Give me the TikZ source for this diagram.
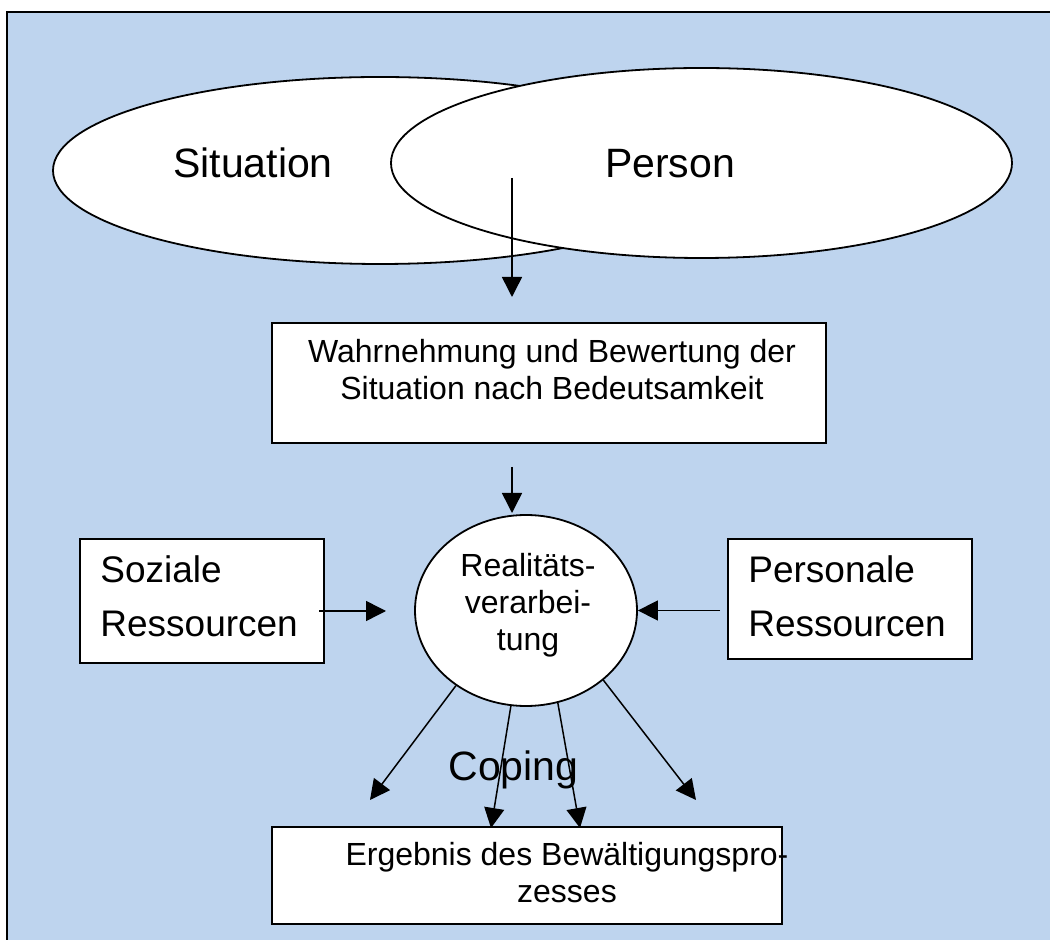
\documentclass[tikz,border=0pt]{standalone}
\usepackage{fontspec}
\setmainfont{Liberation Sans}
\usetikzlibrary{arrows.meta,shapes.geometric}
\definecolor{bgblue}{RGB}{190,212,238}

\begin{document}
\begin{tikzpicture}[x=0.5pt,y=-0.5pt,
        oval/.style={draw,fill=white,line width=0.9pt,ellipse,inner sep=0},
        frame/.style={draw,fill=white,line width=0.85pt,rectangle,inner sep=0},
        arr/.style={line width=0.75pt,-{Triangle[length=10pt,width=10pt]}},
        big/.style={font=\fontsize{20.5}{24}\selectfont,inner sep=0},
        mid/.style={font=\fontsize{18.5}{27}\selectfont,inner sep=0,align=left},
        small/.style={font=\fontsize{16}{18.5}\selectfont,inner sep=0,align=center},
        ]
        \useasboundingbox (0,0) rectangle (1050,940);
        \fill[bgblue] (7,12) rectangle (1050,940);
        \draw[line width=1.1pt] (7,940) -- (7,12) -- (1050,12);

        % the two ovals at the top
        \node[oval,minimum width=327pt,minimum height=93.5pt] (situation) at (380,170.5) {};
        \node[oval,minimum width=310.5pt,minimum height=95pt] (person) at (701.5,163) {};
        \node[big,anchor=base] (sittxt) at (253,178) {Situation};
        \node[big,anchor=base] (pertxt) at (670,178) {Person};

        \node[frame,minimum width=277pt,minimum height=60pt] (wahr) at (549,383) {};
        \node[small,anchor=base] (wahrtxt) at (552,400)
            {Wahrnehmung und Bewertung der\\Situation nach Bedeutsamkeit};

        \node[oval,minimum width=111pt,minimum height=95.5pt] (real) at (526,610.5) {};
        \node[small,anchor=base] (realtxt) at (528,651) {Realitäts-\\verarbei-\\tung};

        \node[frame,minimum width=122pt,minimum height=62pt] (sozial) at (202,601) {};
        \node[mid,anchor=base west] (soztxt) at (100,637) {Soziale\\Ressourcen};
        \node[frame,minimum width=122pt,minimum height=60pt] (personal) at (850,599) {};
        \node[mid,anchor=base west] (pertxt2) at (748,637) {Personale\\Ressourcen};

        \node[frame,minimum width=255pt,minimum height=48.5pt] (ergebnis) at (527,875.5) {};
        \node[small,anchor=base] (ergtxt) at (567,902)
            {Ergebnis des Bewältigungspro-\\zesses};
        \node[big,anchor=base] (coping) at (513.5,780) {Coping};

        % free ends of the arrows
        \coordinate (pa) at (512,178);
        \coordinate (pb) at (512,297);
        \coordinate (wa) at (512,467);
        \coordinate (wb) at (512,513);
        \coordinate (sa) at (319,611);
        \coordinate (sb) at (386,611);
        \coordinate (ra) at (720,610.5);
        \coordinate (e1) at (370,800);
        \coordinate (e2) at (491,828);
        \coordinate (e3) at (580,828);
        \coordinate (e4) at (696,800);

        \draw[arr] (pa) -- (pb);
        \draw[arr] (wa) -- (wb);
        \draw[arr] (sa) -- (sb);
        \draw[arr] (ra) -- (real.east);
        \foreach \a/\e in {227/e1,261/e2,289/e3,318/e4}{
            \draw[arr] (real.\a) -- (\e);
        }
\end{tikzpicture}
\end{document}
